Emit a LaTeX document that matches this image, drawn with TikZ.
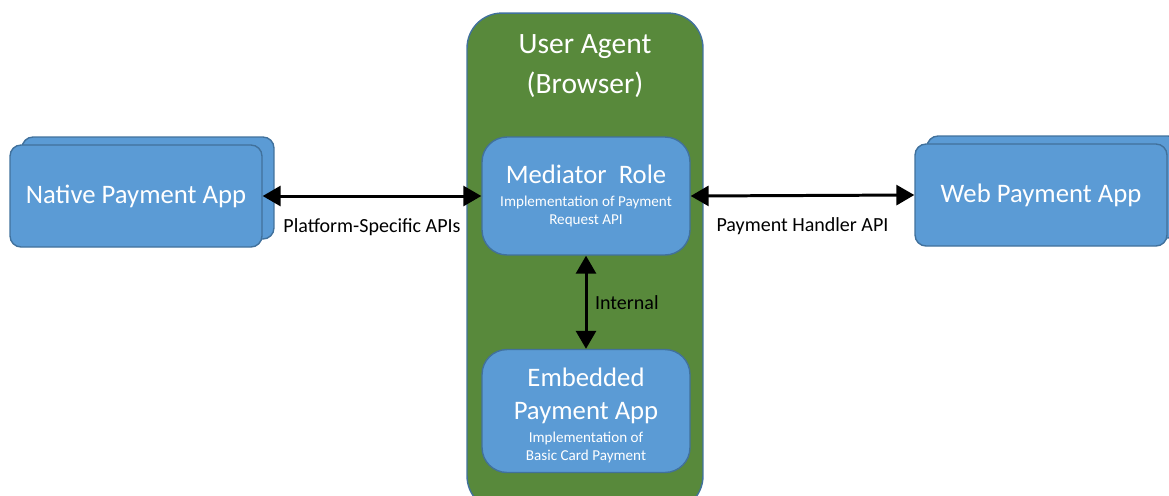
\documentclass[tikz,border=0pt]{standalone}
\usepackage{fontspec}
\setmainfont{Carlito}
\usetikzlibrary{arrows.meta,positioning}
\definecolor{appblue}{RGB}{91,155,213}
\definecolor{appedge}{RGB}{65,113,156}
\definecolor{uagreen}{RGB}{88,137,59}
\newcommand{\subtxt}{\fontsize{8.6}{10.2}\selectfont}
\begin{document}
\begin{tikzpicture}[
  x=0.02cm, y=-0.02cm,
  font=\fontsize{11.4}{13}\selectfont,
  app/.style={draw=appedge, line width=0.8pt, fill=appblue, rounded corners=0.22cm,
    text=white, align=center, minimum width=5.04cm, minimum height=2.04cm,
    font=\fontsize{15.2}{18}\selectfont},
  role/.style={draw=appedge, line width=0.8pt, fill=appblue, rounded corners=0.5cm,
    text=white, align=center, minimum width=4.16cm,
    font=\fontsize{15.2}{19}\selectfont},
  a/.style={{Triangle[length=0.36cm,width=0.4cm]}-{Triangle[length=0.36cm,width=0.4cm]},
    line width=1.7pt}]
\useasboundingbox (0,0) rectangle (1169,495);
\clip (0,0) rectangle (1169,495);
% user agent
\node[draw=appedge, line width=0.8pt, fill=uagreen, rounded corners=0.7cm,
  minimum width=4.72cm, minimum height=9.96cm] (ua) at (585,262) {};
\node[text=white, align=center, font=\fontsize{16.8}{22.5}\selectfont] (uatitle) at (585,66)
  {User Agent\\(Browser)};
\node[role, minimum height=2.36cm] (med) at (586,196)
  {Mediator~~Role\\[-5.8pt]\subtxt Implementation of Payment\\[-8.5pt]\subtxt Request API};
\node[role, minimum height=2.46cm] (emb) at (586,411)
  {\rule{0pt}{15.5pt}Embedded\\Payment App\\[-6.2pt]\subtxt Implementation of\\[-8.5pt]\subtxt Basic Card Payment};
% payment apps
\node[app] (nativeback) at (148,188) {};
\node[app] (native) at (136,196) {Native Payment App};
\node[app] (webback) at (1053,187) {};
\node[app] (web) at (1041,195) {Web Payment App};
% connectors
\draw[a] (native.east) -- node[midway, yshift=-0.62cm]{Platform-Specific APIs} (med.west);
\draw[a] (med.east) -- node[midway, yshift=-0.62cm]{Payment Handler API} (web.west);
\draw[a] (med.south) -- node[midway, right=1pt]{Internal} (emb.north);
\end{tikzpicture}
\end{document}
